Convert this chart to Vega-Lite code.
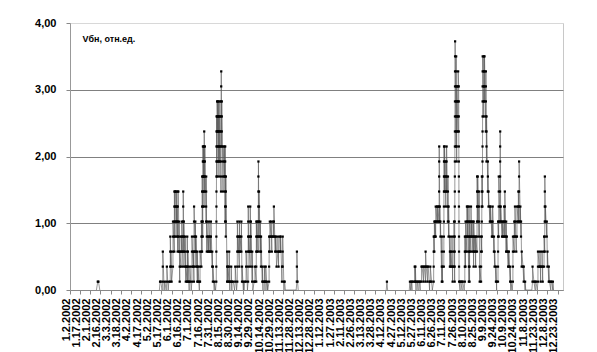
{
"$schema":"https://vega.github.io/schema/vega-lite/v6.json",
"width":493,"height":267,
"autosize":{"type":"none"},
"padding":{"left":70,"top":23,"right":34,"bottom":62},
"background":"white",
"config":{"font":"Liberation Sans","view":{"stroke":"#c8c8c8","strokeWidth":1}},
"datasets":{
"a":[{"t":"2002-02-10T00:00","v":0},{"t":"2002-02-12T00:00","v":0.125},{"t":"2002-02-13T00:00","v":0.125},{"t":"2002-02-15T00:00","v":0}],
"b":[
{"t":"2002-05-14T00:00","v":0},
{"t":"2002-05-15T00:00","v":0.125},
{"t":"2002-05-16T00:00","v":0.125},
{"t":"2002-05-18T00:00","v":0},
{"t":"2002-05-19T00:00","v":0.125},{"t":"2002-05-19T01:00","v":0.35},{"t":"2002-05-19T02:00","v":0.575},
{"t":"2002-05-21T00:00","v":0},
{"t":"2002-05-22T00:00","v":0.125},
{"t":"2002-05-24T00:00","v":0},
{"t":"2002-05-25T00:00","v":0.125},{"t":"2002-05-25T01:00","v":0.35},
{"t":"2002-05-27T00:00","v":0},
{"t":"2002-05-28T00:00","v":0.125},
{"t":"2002-05-30T00:00","v":0.125},{"t":"2002-05-30T01:00","v":0.35},{"t":"2002-05-30T02:00","v":0.575},{"t":"2002-05-30T03:00","v":0.8},
{"t":"2002-05-31T00:00","v":0.35},{"t":"2002-05-31T01:00","v":0.575},
{"t":"2002-06-01T00:00","v":0.125},
{"t":"2002-06-03T00:00","v":0.35},{"t":"2002-06-03T01:00","v":0.575},{"t":"2002-06-03T02:00","v":0.8},{"t":"2002-06-03T03:00","v":1.025},
{"t":"2002-06-05T00:00","v":0.575},{"t":"2002-06-05T01:00","v":0.8},{"t":"2002-06-05T02:00","v":1.025},{"t":"2002-06-05T03:00","v":1.25},{"t":"2002-06-05T04:00","v":1.475},
{"t":"2002-06-06T00:00","v":0.8},{"t":"2002-06-06T01:00","v":1.025},{"t":"2002-06-06T02:00","v":1.25},{"t":"2002-06-06T03:00","v":1.475},
{"t":"2002-06-07T00:00","v":1.475},
{"t":"2002-06-08T00:00","v":1.025},{"t":"2002-06-08T01:00","v":1.25},{"t":"2002-06-08T02:00","v":1.475},
{"t":"2002-06-09T00:00","v":0.8},{"t":"2002-06-09T01:00","v":1.025},{"t":"2002-06-09T02:00","v":1.25},
{"t":"2002-06-10T00:00","v":0.575},{"t":"2002-06-10T01:00","v":0.8},{"t":"2002-06-10T02:00","v":1.025},{"t":"2002-06-10T03:00","v":1.25},{"t":"2002-06-10T04:00","v":1.475},
{"t":"2002-06-11T00:00","v":1.475},
{"t":"2002-06-12T00:00","v":0.575},{"t":"2002-06-12T01:00","v":0.8},{"t":"2002-06-12T02:00","v":1.025},
{"t":"2002-06-13T00:00","v":0.125},{"t":"2002-06-13T01:00","v":0.35},{"t":"2002-06-13T02:00","v":0.575},
{"t":"2002-06-15T00:00","v":0.35},{"t":"2002-06-15T01:00","v":0.575},{"t":"2002-06-15T02:00","v":0.8},
{"t":"2002-06-16T00:00","v":0.575},{"t":"2002-06-16T01:00","v":0.8},{"t":"2002-06-16T02:00","v":1.025},
{"t":"2002-06-18T00:00","v":0.35},{"t":"2002-06-18T01:00","v":0.575},{"t":"2002-06-18T02:00","v":0.8},{"t":"2002-06-18T03:00","v":1.025},{"t":"2002-06-18T04:00","v":1.25},{"t":"2002-06-18T05:00","v":1.475},
{"t":"2002-06-19T00:00","v":0.575},{"t":"2002-06-19T01:00","v":0.8},{"t":"2002-06-19T02:00","v":1.025},
{"t":"2002-06-21T00:00","v":0.35},{"t":"2002-06-21T01:00","v":0.575},{"t":"2002-06-21T02:00","v":0.8},
{"t":"2002-06-22T00:00","v":0.125},{"t":"2002-06-22T01:00","v":0.35},
{"t":"2002-06-24T00:00","v":0.125},{"t":"2002-06-24T01:00","v":0.35},{"t":"2002-06-24T02:00","v":0.575},{"t":"2002-06-24T03:00","v":0.8},
{"t":"2002-06-25T00:00","v":0.125},{"t":"2002-06-25T01:00","v":0.35},{"t":"2002-06-25T02:00","v":0.575},
{"t":"2002-06-27T00:00","v":0},{"t":"2002-06-27T01:00","v":0.125},
{"t":"2002-06-28T00:00","v":0.125},{"t":"2002-06-28T01:00","v":0.35},
{"t":"2002-06-30T00:00","v":0},
{"t":"2002-07-01T00:00","v":0.125},{"t":"2002-07-01T01:00","v":0.35},{"t":"2002-07-01T02:00","v":0.575},{"t":"2002-07-01T03:00","v":0.8},
{"t":"2002-07-03T00:00","v":0.35},{"t":"2002-07-03T01:00","v":0.575},
{"t":"2002-07-04T00:00","v":0.125},{"t":"2002-07-04T01:00","v":0.35},{"t":"2002-07-04T02:00","v":0.575},{"t":"2002-07-04T03:00","v":0.8},{"t":"2002-07-04T04:00","v":1.025},{"t":"2002-07-04T05:00","v":1.25},
{"t":"2002-07-06T00:00","v":0.575},{"t":"2002-07-06T01:00","v":0.8},{"t":"2002-07-06T02:00","v":1.025},
{"t":"2002-07-07T00:00","v":0.35},{"t":"2002-07-07T01:00","v":0.575},{"t":"2002-07-07T02:00","v":0.8},
{"t":"2002-07-09T00:00","v":0.125},{"t":"2002-07-09T01:00","v":0.35},{"t":"2002-07-09T02:00","v":0.575},
{"t":"2002-07-10T00:00","v":0.125},{"t":"2002-07-10T01:00","v":0.35},
{"t":"2002-07-12T00:00","v":0},{"t":"2002-07-12T01:00","v":0.125},
{"t":"2002-07-13T00:00","v":0.125},{"t":"2002-07-13T01:00","v":0.35},{"t":"2002-07-13T02:00","v":0.575},
{"t":"2002-07-15T00:00","v":0.35},{"t":"2002-07-15T01:00","v":0.575},{"t":"2002-07-15T02:00","v":0.8},{"t":"2002-07-15T03:00","v":1.025},
{"t":"2002-07-16T00:00","v":0.575},{"t":"2002-07-16T01:00","v":0.8},{"t":"2002-07-16T02:00","v":1.025},{"t":"2002-07-16T03:00","v":1.25},{"t":"2002-07-16T04:00","v":1.475},{"t":"2002-07-16T05:00","v":1.7},
{"t":"2002-07-17T00:00","v":0.8},{"t":"2002-07-17T01:00","v":1.025},{"t":"2002-07-17T02:00","v":1.25},{"t":"2002-07-17T03:00","v":1.475},{"t":"2002-07-17T04:00","v":1.7},{"t":"2002-07-17T05:00","v":1.925},{"t":"2002-07-17T06:00","v":2.15},
{"t":"2002-07-18T00:00","v":1.7},{"t":"2002-07-18T01:00","v":1.925},{"t":"2002-07-18T02:00","v":2.15},
{"t":"2002-07-19T00:00","v":1.25},{"t":"2002-07-19T01:00","v":1.475},{"t":"2002-07-19T02:00","v":1.7},{"t":"2002-07-19T03:00","v":1.925},{"t":"2002-07-19T04:00","v":2.15},{"t":"2002-07-19T05:00","v":2.375},
{"t":"2002-07-20T00:00","v":1.475},{"t":"2002-07-20T01:00","v":1.7},{"t":"2002-07-20T02:00","v":1.925},{"t":"2002-07-20T03:00","v":2.15},
{"t":"2002-07-22T00:00","v":1.025},{"t":"2002-07-22T01:00","v":1.25},{"t":"2002-07-22T02:00","v":1.475},{"t":"2002-07-22T03:00","v":1.7},
{"t":"2002-07-23T00:00","v":0.575},{"t":"2002-07-23T01:00","v":0.8},{"t":"2002-07-23T02:00","v":1.025},
{"t":"2002-07-25T00:00","v":0.575},{"t":"2002-07-25T01:00","v":0.8},
{"t":"2002-07-26T00:00","v":0.575},{"t":"2002-07-26T01:00","v":0.8},{"t":"2002-07-26T02:00","v":1.025},
{"t":"2002-07-28T00:00","v":0.575},{"t":"2002-07-28T01:00","v":0.8},
{"t":"2002-07-29T00:00","v":0.575},{"t":"2002-07-29T01:00","v":0.8},{"t":"2002-07-29T02:00","v":1.025},
{"t":"2002-07-31T00:00","v":0.35},{"t":"2002-07-31T01:00","v":0.575},
{"t":"2002-08-01T00:00","v":0.125},{"t":"2002-08-01T01:00","v":0.35},
{"t":"2002-08-03T00:00","v":0},{"t":"2002-08-03T01:00","v":0.125},
{"t":"2002-08-05T00:00","v":0},
{"t":"2002-08-06T00:00","v":0.125},{"t":"2002-08-06T01:00","v":0.35},{"t":"2002-08-06T02:00","v":0.575},{"t":"2002-08-06T03:00","v":0.8},{"t":"2002-08-06T04:00","v":1.025},{"t":"2002-08-06T05:00","v":1.25},{"t":"2002-08-06T06:00","v":1.475},{"t":"2002-08-06T07:00","v":1.7},{"t":"2002-08-06T08:00","v":1.925},{"t":"2002-08-06T09:00","v":2.15},{"t":"2002-08-06T10:00","v":2.375},{"t":"2002-08-06T11:00","v":2.6},
{"t":"2002-08-07T00:00","v":1.7},{"t":"2002-08-07T01:00","v":1.925},{"t":"2002-08-07T02:00","v":2.15},{"t":"2002-08-07T03:00","v":2.375},{"t":"2002-08-07T04:00","v":2.6},{"t":"2002-08-07T05:00","v":2.825},
{"t":"2002-08-08T00:00","v":2.375},{"t":"2002-08-08T01:00","v":2.6},{"t":"2002-08-08T02:00","v":2.825},
{"t":"2002-08-09T00:00","v":1.925},{"t":"2002-08-09T01:00","v":2.15},{"t":"2002-08-09T02:00","v":2.375},{"t":"2002-08-09T03:00","v":2.6},{"t":"2002-08-09T04:00","v":2.825},
{"t":"2002-08-10T00:00","v":1.7},{"t":"2002-08-10T01:00","v":1.925},{"t":"2002-08-10T02:00","v":2.15},{"t":"2002-08-10T03:00","v":2.375},{"t":"2002-08-10T04:00","v":2.6},
{"t":"2002-08-11T00:00","v":1.925},{"t":"2002-08-11T01:00","v":2.15},{"t":"2002-08-11T02:00","v":2.375},{"t":"2002-08-11T03:00","v":2.6},{"t":"2002-08-11T04:00","v":2.825},
{"t":"2002-08-13T00:00","v":1.475},{"t":"2002-08-13T01:00","v":1.7},{"t":"2002-08-13T02:00","v":1.925},{"t":"2002-08-13T03:00","v":2.15},{"t":"2002-08-13T04:00","v":2.375},{"t":"2002-08-13T05:00","v":2.6},{"t":"2002-08-13T06:00","v":2.825},{"t":"2002-08-13T07:00","v":3.05},{"t":"2002-08-13T08:00","v":3.275},
{"t":"2002-08-14T00:00","v":2.15},{"t":"2002-08-14T01:00","v":2.375},{"t":"2002-08-14T02:00","v":2.6},{"t":"2002-08-14T03:00","v":2.825},
{"t":"2002-08-16T00:00","v":1.475},{"t":"2002-08-16T01:00","v":1.7},{"t":"2002-08-16T02:00","v":1.925},{"t":"2002-08-16T03:00","v":2.15},
{"t":"2002-08-18T00:00","v":1.7},{"t":"2002-08-18T01:00","v":1.925},{"t":"2002-08-18T02:00","v":2.15},
{"t":"2002-08-19T00:00","v":1.025},{"t":"2002-08-19T01:00","v":1.25},{"t":"2002-08-19T02:00","v":1.475},{"t":"2002-08-19T03:00","v":1.7},{"t":"2002-08-19T04:00","v":1.925},{"t":"2002-08-19T05:00","v":2.15},
{"t":"2002-08-20T00:00","v":0.8},{"t":"2002-08-20T01:00","v":1.025},{"t":"2002-08-20T02:00","v":1.25},{"t":"2002-08-20T03:00","v":1.475},{"t":"2002-08-20T04:00","v":1.7},
{"t":"2002-08-22T00:00","v":0.125},{"t":"2002-08-22T01:00","v":0.35},{"t":"2002-08-22T02:00","v":0.575},
{"t":"2002-08-23T00:00","v":0.125},{"t":"2002-08-23T01:00","v":0.35},
{"t":"2002-08-25T00:00","v":0.125},{"t":"2002-08-25T01:00","v":0.35},{"t":"2002-08-25T02:00","v":0.575},
{"t":"2002-08-26T00:00","v":0},{"t":"2002-08-26T01:00","v":0.125},
{"t":"2002-08-28T00:00","v":0.125},{"t":"2002-08-28T01:00","v":0.35},
{"t":"2002-08-29T00:00","v":0},{"t":"2002-08-29T01:00","v":0.125},
{"t":"2002-08-31T00:00","v":0.125},
{"t":"2002-09-02T00:00","v":0},
{"t":"2002-09-03T00:00","v":0.125},{"t":"2002-09-03T01:00","v":0.35},
{"t":"2002-09-05T00:00","v":0},
{"t":"2002-09-06T00:00","v":0.125},{"t":"2002-09-06T01:00","v":0.35},{"t":"2002-09-06T02:00","v":0.575},{"t":"2002-09-06T03:00","v":0.8},{"t":"2002-09-06T04:00","v":1.025},
{"t":"2002-09-07T00:00","v":0.575},{"t":"2002-09-07T01:00","v":0.8},
{"t":"2002-09-09T00:00","v":0.35},{"t":"2002-09-09T01:00","v":0.575},{"t":"2002-09-09T02:00","v":0.8},{"t":"2002-09-09T03:00","v":1.025},
{"t":"2002-09-10T00:00","v":0.575},{"t":"2002-09-10T01:00","v":0.8},
{"t":"2002-09-12T00:00","v":0.575},{"t":"2002-09-12T01:00","v":0.8},{"t":"2002-09-12T02:00","v":1.025},
{"t":"2002-09-13T00:00","v":0.125},{"t":"2002-09-13T01:00","v":0.35},
{"t":"2002-09-15T00:00","v":0},{"t":"2002-09-15T01:00","v":0.125},
{"t":"2002-09-16T00:00","v":0},
{"t":"2002-09-17T00:00","v":0.125},
{"t":"2002-09-19T00:00","v":0.125},{"t":"2002-09-19T01:00","v":0.35},{"t":"2002-09-19T02:00","v":0.575},
{"t":"2002-09-21T00:00","v":0},
{"t":"2002-09-22T00:00","v":0.125},{"t":"2002-09-22T01:00","v":0.35},{"t":"2002-09-22T02:00","v":0.575},{"t":"2002-09-22T03:00","v":0.8},{"t":"2002-09-22T04:00","v":1.025},{"t":"2002-09-22T05:00","v":1.25},
{"t":"2002-09-23T00:00","v":0.575},{"t":"2002-09-23T01:00","v":0.8},
{"t":"2002-09-25T00:00","v":0.35},{"t":"2002-09-25T01:00","v":0.575},{"t":"2002-09-25T02:00","v":0.8},{"t":"2002-09-25T03:00","v":1.025},{"t":"2002-09-25T04:00","v":1.25},
{"t":"2002-09-26T00:00","v":0.575},{"t":"2002-09-26T01:00","v":0.8},{"t":"2002-09-26T02:00","v":1.025},
{"t":"2002-09-28T00:00","v":0.125},{"t":"2002-09-28T01:00","v":0.35},{"t":"2002-09-28T02:00","v":0.575},
{"t":"2002-09-29T00:00","v":0},
{"t":"2002-10-01T00:00","v":0.125},
{"t":"2002-10-02T00:00","v":0.125},{"t":"2002-10-02T01:00","v":0.35},
{"t":"2002-10-04T00:00","v":0.125},{"t":"2002-10-04T01:00","v":0.35},{"t":"2002-10-04T02:00","v":0.575},{"t":"2002-10-04T03:00","v":0.8},{"t":"2002-10-04T04:00","v":1.025},
{"t":"2002-10-05T00:00","v":0.575},{"t":"2002-10-05T01:00","v":0.8},{"t":"2002-10-05T02:00","v":1.025},
{"t":"2002-10-07T00:00","v":0.575},{"t":"2002-10-07T01:00","v":0.8},{"t":"2002-10-07T02:00","v":1.025},{"t":"2002-10-07T03:00","v":1.25},{"t":"2002-10-07T04:00","v":1.475},{"t":"2002-10-07T05:00","v":1.7},{"t":"2002-10-07T06:00","v":1.925},
{"t":"2002-10-08T00:00","v":0.8},{"t":"2002-10-08T01:00","v":1.025},{"t":"2002-10-08T02:00","v":1.25},{"t":"2002-10-08T03:00","v":1.475},
{"t":"2002-10-10T00:00","v":0.575},{"t":"2002-10-10T01:00","v":0.8},{"t":"2002-10-10T02:00","v":1.025},
{"t":"2002-10-11T00:00","v":0.35},{"t":"2002-10-11T01:00","v":0.575},{"t":"2002-10-11T02:00","v":0.8},
{"t":"2002-10-13T00:00","v":0.125},{"t":"2002-10-13T01:00","v":0.35},
{"t":"2002-10-14T00:00","v":0},{"t":"2002-10-14T01:00","v":0.125},
{"t":"2002-10-16T00:00","v":0.125},{"t":"2002-10-16T01:00","v":0.35},
{"t":"2002-10-17T00:00","v":0},{"t":"2002-10-17T01:00","v":0.125},
{"t":"2002-10-18T00:00","v":0.125},{"t":"2002-10-18T01:00","v":0.35},
{"t":"2002-10-20T00:00","v":0},{"t":"2002-10-20T01:00","v":0.125},
{"t":"2002-10-21T00:00","v":0},
{"t":"2002-10-23T00:00","v":0.125},{"t":"2002-10-23T01:00","v":0.35},{"t":"2002-10-23T02:00","v":0.575},{"t":"2002-10-23T03:00","v":0.8},
{"t":"2002-10-24T00:00","v":0.575},{"t":"2002-10-24T01:00","v":0.8},{"t":"2002-10-24T02:00","v":1.025},
{"t":"2002-10-26T00:00","v":0.8},{"t":"2002-10-26T01:00","v":1.025},
{"t":"2002-10-27T00:00","v":0.575},{"t":"2002-10-27T01:00","v":0.8},
{"t":"2002-10-29T00:00","v":0.8},{"t":"2002-10-29T01:00","v":1.025},
{"t":"2002-10-30T00:00","v":0.8},{"t":"2002-10-30T01:00","v":1.025},{"t":"2002-10-30T02:00","v":1.25},
{"t":"2002-11-01T00:00","v":0.575},{"t":"2002-11-01T01:00","v":0.8},
{"t":"2002-11-02T00:00","v":0.575},{"t":"2002-11-02T01:00","v":0.8},
{"t":"2002-11-03T00:00","v":0.35},
{"t":"2002-11-05T00:00","v":0.575},{"t":"2002-11-05T01:00","v":0.8},
{"t":"2002-11-06T00:00","v":0.35},{"t":"2002-11-06T01:00","v":0.575},
{"t":"2002-11-08T00:00","v":0.575},{"t":"2002-11-08T01:00","v":0.8},
{"t":"2002-11-09T00:00","v":0.575},{"t":"2002-11-09T01:00","v":0.8},
{"t":"2002-11-11T00:00","v":0.125},{"t":"2002-11-11T01:00","v":0.35},
{"t":"2002-11-12T00:00","v":0.35},{"t":"2002-11-12T01:00","v":0.575},{"t":"2002-11-12T02:00","v":0.8},
{"t":"2002-11-14T00:00","v":0},{"t":"2002-11-14T01:00","v":0.125},
{"t":"2002-11-15T00:00","v":0.125},
{"t":"2002-11-16T00:00","v":0},
{"t":"2002-12-02T00:00","v":0},
{"t":"2002-12-03T00:00","v":0.125},{"t":"2002-12-03T01:00","v":0.35},{"t":"2002-12-03T02:00","v":0.575},
{"t":"2002-12-04T00:00","v":0.125},
{"t":"2002-12-05T00:00","v":0}
],
"c":[{"t":"2003-04-14T00:00","v":0},{"t":"2003-04-15T00:00","v":0.125},{"t":"2003-04-16T00:00","v":0}],
"d":[
{"t":"2003-05-18T00:00","v":0},
{"t":"2003-05-19T00:00","v":0.125},
{"t":"2003-05-20T00:00","v":0},
{"t":"2003-05-21T00:00","v":0.125},
{"t":"2003-05-22T00:00","v":0},{"t":"2003-05-22T01:00","v":0.125},
{"t":"2003-05-24T00:00","v":0.125},
{"t":"2003-05-26T00:00","v":0.125},{"t":"2003-05-26T01:00","v":0.35},
{"t":"2003-05-27T00:00","v":0.125},{"t":"2003-05-27T01:00","v":0.35},
{"t":"2003-05-28T00:00","v":0},{"t":"2003-05-28T01:00","v":0.125},
{"t":"2003-05-30T00:00","v":0.125},
{"t":"2003-05-31T00:00","v":0},{"t":"2003-05-31T01:00","v":0.125},
{"t":"2003-06-02T00:00","v":0.125},
{"t":"2003-06-03T00:00","v":0},{"t":"2003-06-03T01:00","v":0.125},
{"t":"2003-06-05T00:00","v":0.125},{"t":"2003-06-05T01:00","v":0.35},
{"t":"2003-06-06T00:00","v":0.35},
{"t":"2003-06-08T00:00","v":0.125},{"t":"2003-06-08T01:00","v":0.35},
{"t":"2003-06-09T00:00","v":0.35},
{"t":"2003-06-11T00:00","v":0.125},{"t":"2003-06-11T01:00","v":0.35},{"t":"2003-06-11T02:00","v":0.575},
{"t":"2003-06-12T00:00","v":0.35},
{"t":"2003-06-14T00:00","v":0.125},{"t":"2003-06-14T01:00","v":0.35},
{"t":"2003-06-15T00:00","v":0.35},
{"t":"2003-06-17T00:00","v":0},{"t":"2003-06-17T01:00","v":0.125},
{"t":"2003-06-18T00:00","v":0.125},{"t":"2003-06-18T01:00","v":0.35},
{"t":"2003-06-20T00:00","v":0.125},
{"t":"2003-06-21T00:00","v":0},
{"t":"2003-06-23T00:00","v":0.125},{"t":"2003-06-23T01:00","v":0.35},{"t":"2003-06-23T02:00","v":0.575},{"t":"2003-06-23T03:00","v":0.8},
{"t":"2003-06-24T00:00","v":0.575},{"t":"2003-06-24T01:00","v":0.8},{"t":"2003-06-24T02:00","v":1.025},
{"t":"2003-06-25T00:00","v":0.8},{"t":"2003-06-25T01:00","v":1.025},
{"t":"2003-06-26T00:00","v":0.8},{"t":"2003-06-26T01:00","v":1.025},{"t":"2003-06-26T02:00","v":1.25},
{"t":"2003-06-28T00:00","v":1.025},{"t":"2003-06-28T01:00","v":1.25},
{"t":"2003-06-29T00:00","v":1.025},{"t":"2003-06-29T01:00","v":1.25},
{"t":"2003-07-01T00:00","v":1.025},{"t":"2003-07-01T01:00","v":1.25},{"t":"2003-07-01T02:00","v":1.475},{"t":"2003-07-01T03:00","v":1.7},{"t":"2003-07-01T04:00","v":1.925},{"t":"2003-07-01T05:00","v":2.15},
{"t":"2003-07-02T00:00","v":1.025},{"t":"2003-07-02T01:00","v":1.25},
{"t":"2003-07-03T00:00","v":0.8},{"t":"2003-07-03T01:00","v":1.025},
{"t":"2003-07-05T00:00","v":0.125},{"t":"2003-07-05T01:00","v":0.35},{"t":"2003-07-05T02:00","v":0.575},{"t":"2003-07-05T03:00","v":0.8},
{"t":"2003-07-06T00:00","v":0.125},{"t":"2003-07-06T01:00","v":0.35},
{"t":"2003-07-08T00:00","v":0.35},{"t":"2003-07-08T01:00","v":0.575},{"t":"2003-07-08T02:00","v":0.8},{"t":"2003-07-08T03:00","v":1.025},{"t":"2003-07-08T04:00","v":1.25},{"t":"2003-07-08T05:00","v":1.475},{"t":"2003-07-08T06:00","v":1.7},{"t":"2003-07-08T07:00","v":1.925},{"t":"2003-07-08T08:00","v":2.15},
{"t":"2003-07-09T00:00","v":1.475},{"t":"2003-07-09T01:00","v":1.7},{"t":"2003-07-09T02:00","v":1.925},{"t":"2003-07-09T03:00","v":2.15},
{"t":"2003-07-11T00:00","v":1.25},{"t":"2003-07-11T01:00","v":1.475},{"t":"2003-07-11T02:00","v":1.7},{"t":"2003-07-11T03:00","v":1.925},
{"t":"2003-07-12T00:00","v":1.475},{"t":"2003-07-12T01:00","v":1.7},{"t":"2003-07-12T02:00","v":1.925},{"t":"2003-07-12T03:00","v":2.15},
{"t":"2003-07-14T00:00","v":1.025},{"t":"2003-07-14T01:00","v":1.25},{"t":"2003-07-14T02:00","v":1.475},{"t":"2003-07-14T03:00","v":1.7},
{"t":"2003-07-15T00:00","v":0.8},{"t":"2003-07-15T01:00","v":1.025},{"t":"2003-07-15T02:00","v":1.25},
{"t":"2003-07-17T00:00","v":0.35},{"t":"2003-07-17T01:00","v":0.575},{"t":"2003-07-17T02:00","v":0.8},
{"t":"2003-07-18T00:00","v":0.35},{"t":"2003-07-18T01:00","v":0.575},
{"t":"2003-07-20T00:00","v":0.35},{"t":"2003-07-20T01:00","v":0.575},{"t":"2003-07-20T02:00","v":0.8},
{"t":"2003-07-21T00:00","v":0.125},{"t":"2003-07-21T01:00","v":0.35},
{"t":"2003-07-23T00:00","v":0.35},{"t":"2003-07-23T01:00","v":0.575},{"t":"2003-07-23T02:00","v":0.8},{"t":"2003-07-23T03:00","v":1.025},
{"t":"2003-07-24T00:00","v":0.125},{"t":"2003-07-24T01:00","v":0.35},{"t":"2003-07-24T02:00","v":0.575},{"t":"2003-07-24T03:00","v":0.8},{"t":"2003-07-24T04:00","v":1.025},{"t":"2003-07-24T05:00","v":1.25},{"t":"2003-07-24T06:00","v":1.475},{"t":"2003-07-24T07:00","v":1.7},{"t":"2003-07-24T08:00","v":1.925},{"t":"2003-07-24T09:00","v":2.15},{"t":"2003-07-24T10:00","v":2.375},{"t":"2003-07-24T11:00","v":2.6},{"t":"2003-07-24T12:00","v":2.825},{"t":"2003-07-24T13:00","v":3.05},{"t":"2003-07-24T14:00","v":3.275},{"t":"2003-07-24T15:00","v":3.5},{"t":"2003-07-24T16:00","v":3.725},
{"t":"2003-07-26T00:00","v":2.15},{"t":"2003-07-26T01:00","v":2.375},{"t":"2003-07-26T02:00","v":2.6},{"t":"2003-07-26T03:00","v":2.825},{"t":"2003-07-26T04:00","v":3.05},{"t":"2003-07-26T05:00","v":3.275},{"t":"2003-07-26T06:00","v":3.5},
{"t":"2003-07-27T00:00","v":1.925},{"t":"2003-07-27T01:00","v":2.15},{"t":"2003-07-27T02:00","v":2.375},{"t":"2003-07-27T03:00","v":2.6},{"t":"2003-07-27T04:00","v":2.825},{"t":"2003-07-27T05:00","v":3.05},
{"t":"2003-07-29T00:00","v":2.375},{"t":"2003-07-29T01:00","v":2.6},{"t":"2003-07-29T02:00","v":2.825},{"t":"2003-07-29T03:00","v":3.05},{"t":"2003-07-29T04:00","v":3.275},
{"t":"2003-07-30T00:00","v":3.05},{"t":"2003-07-30T01:00","v":2.825},{"t":"2003-07-30T02:00","v":2.6},{"t":"2003-07-30T03:00","v":2.375},{"t":"2003-07-30T04:00","v":2.15},{"t":"2003-07-30T05:00","v":1.925},{"t":"2003-07-30T06:00","v":1.7},{"t":"2003-07-30T07:00","v":1.475},{"t":"2003-07-30T08:00","v":1.25},{"t":"2003-07-30T09:00","v":1.025},{"t":"2003-07-30T10:00","v":0.8},{"t":"2003-07-30T11:00","v":0.575},{"t":"2003-07-30T12:00","v":0.35},{"t":"2003-07-30T13:00","v":0.125},
{"t":"2003-08-01T00:00","v":0},{"t":"2003-08-01T01:00","v":0.125},
{"t":"2003-08-02T00:00","v":0.125},
{"t":"2003-08-04T00:00","v":0},{"t":"2003-08-04T01:00","v":0.125},
{"t":"2003-08-05T00:00","v":0.125},
{"t":"2003-08-07T00:00","v":0},
{"t":"2003-08-08T00:00","v":0.125},{"t":"2003-08-08T01:00","v":0.35},{"t":"2003-08-08T02:00","v":0.575},{"t":"2003-08-08T03:00","v":0.8},
{"t":"2003-08-09T00:00","v":0.35},{"t":"2003-08-09T01:00","v":0.575},{"t":"2003-08-09T02:00","v":0.8},{"t":"2003-08-09T03:00","v":1.025},
{"t":"2003-08-11T00:00","v":0.575},{"t":"2003-08-11T01:00","v":0.8},{"t":"2003-08-11T02:00","v":1.025},{"t":"2003-08-11T03:00","v":1.25},
{"t":"2003-08-12T00:00","v":0.8},{"t":"2003-08-12T01:00","v":1.025},{"t":"2003-08-12T02:00","v":1.25},
{"t":"2003-08-14T00:00","v":0.125},{"t":"2003-08-14T01:00","v":0.35},{"t":"2003-08-14T02:00","v":0.575},{"t":"2003-08-14T03:00","v":0.8},{"t":"2003-08-14T04:00","v":1.025},{"t":"2003-08-14T05:00","v":1.25},
{"t":"2003-08-15T00:00","v":0.125},{"t":"2003-08-15T01:00","v":0.35},{"t":"2003-08-15T02:00","v":0.575},{"t":"2003-08-15T03:00","v":0.8},{"t":"2003-08-15T04:00","v":1.025},
{"t":"2003-08-17T00:00","v":0.575},{"t":"2003-08-17T01:00","v":0.8},{"t":"2003-08-17T02:00","v":1.025},{"t":"2003-08-17T03:00","v":1.25},
{"t":"2003-08-18T00:00","v":0.8},{"t":"2003-08-18T01:00","v":1.025},
{"t":"2003-08-20T00:00","v":0.575},{"t":"2003-08-20T01:00","v":0.8},{"t":"2003-08-20T02:00","v":1.025},
{"t":"2003-08-21T00:00","v":0.35},{"t":"2003-08-21T01:00","v":0.575},{"t":"2003-08-21T02:00","v":0.8},{"t":"2003-08-21T03:00","v":1.025},
{"t":"2003-08-23T00:00","v":0.575},{"t":"2003-08-23T01:00","v":0.8},
{"t":"2003-08-24T00:00","v":0.35},{"t":"2003-08-24T01:00","v":0.575},{"t":"2003-08-24T02:00","v":0.8},
{"t":"2003-08-26T00:00","v":0.575},{"t":"2003-08-26T01:00","v":0.8},{"t":"2003-08-26T02:00","v":1.025},{"t":"2003-08-26T03:00","v":1.25},{"t":"2003-08-26T04:00","v":1.475},{"t":"2003-08-26T05:00","v":1.7},
{"t":"2003-08-27T00:00","v":1.025},{"t":"2003-08-27T01:00","v":1.25},{"t":"2003-08-27T02:00","v":1.475},{"t":"2003-08-27T03:00","v":1.7},
{"t":"2003-08-29T00:00","v":0.8},{"t":"2003-08-29T01:00","v":1.025},{"t":"2003-08-29T02:00","v":1.25},{"t":"2003-08-29T03:00","v":1.475},
{"t":"2003-08-30T00:00","v":0.125},{"t":"2003-08-30T01:00","v":0.35},
{"t":"2003-09-01T00:00","v":0.125},{"t":"2003-09-01T01:00","v":0.35},{"t":"2003-09-01T02:00","v":0.575},{"t":"2003-09-01T03:00","v":0.8},
{"t":"2003-09-02T00:00","v":0.575},{"t":"2003-09-02T01:00","v":0.8},{"t":"2003-09-02T02:00","v":1.025},{"t":"2003-09-02T03:00","v":1.25},{"t":"2003-09-02T04:00","v":1.475},{"t":"2003-09-02T05:00","v":1.7},
{"t":"2003-09-03T00:00","v":1.25},{"t":"2003-09-03T01:00","v":1.475},{"t":"2003-09-03T02:00","v":1.7},{"t":"2003-09-03T03:00","v":1.925},{"t":"2003-09-03T04:00","v":2.15},{"t":"2003-09-03T05:00","v":2.375},{"t":"2003-09-03T06:00","v":2.6},{"t":"2003-09-03T07:00","v":2.825},{"t":"2003-09-03T08:00","v":3.05},{"t":"2003-09-03T09:00","v":3.275},{"t":"2003-09-03T10:00","v":3.5},
{"t":"2003-09-05T00:00","v":2.6},{"t":"2003-09-05T01:00","v":2.825},{"t":"2003-09-05T02:00","v":3.05},{"t":"2003-09-05T03:00","v":3.275},{"t":"2003-09-05T04:00","v":3.5},
{"t":"2003-09-06T00:00","v":2.825},{"t":"2003-09-06T01:00","v":3.05},{"t":"2003-09-06T02:00","v":3.275},{"t":"2003-09-06T03:00","v":3.5},
{"t":"2003-09-08T00:00","v":2.375},{"t":"2003-09-08T01:00","v":2.6},{"t":"2003-09-08T02:00","v":2.825},{"t":"2003-09-08T03:00","v":3.05},{"t":"2003-09-08T04:00","v":3.275},
{"t":"2003-09-09T00:00","v":1.925},{"t":"2003-09-09T01:00","v":2.15},{"t":"2003-09-09T02:00","v":2.375},{"t":"2003-09-09T03:00","v":2.6},
{"t":"2003-09-11T00:00","v":1.475},{"t":"2003-09-11T01:00","v":1.7},{"t":"2003-09-11T02:00","v":1.925},
{"t":"2003-09-12T00:00","v":1.25},{"t":"2003-09-12T01:00","v":1.475},
{"t":"2003-09-14T00:00","v":1.025},{"t":"2003-09-14T01:00","v":1.25},
{"t":"2003-09-15T00:00","v":1.025},{"t":"2003-09-15T01:00","v":1.25},
{"t":"2003-09-17T00:00","v":0.8},{"t":"2003-09-17T01:00","v":1.025},
{"t":"2003-09-18T00:00","v":0.8},{"t":"2003-09-18T01:00","v":1.025},{"t":"2003-09-18T02:00","v":1.25},
{"t":"2003-09-20T00:00","v":0.575},{"t":"2003-09-20T01:00","v":0.8},
{"t":"2003-09-21T00:00","v":0.35},{"t":"2003-09-21T01:00","v":0.575},
{"t":"2003-09-23T00:00","v":0.125},{"t":"2003-09-23T01:00","v":0.35},
{"t":"2003-09-24T00:00","v":0},{"t":"2003-09-24T01:00","v":0.125},
{"t":"2003-09-26T00:00","v":0.125},{"t":"2003-09-26T01:00","v":0.35},{"t":"2003-09-26T02:00","v":0.575},{"t":"2003-09-26T03:00","v":0.8},{"t":"2003-09-26T04:00","v":1.025},
{"t":"2003-09-27T00:00","v":0.8},{"t":"2003-09-27T01:00","v":1.025},{"t":"2003-09-27T02:00","v":1.25},{"t":"2003-09-27T03:00","v":1.475},{"t":"2003-09-27T04:00","v":1.7},
{"t":"2003-09-29T00:00","v":1.025},{"t":"2003-09-29T01:00","v":1.25},{"t":"2003-09-29T02:00","v":1.475},{"t":"2003-09-29T03:00","v":1.7},{"t":"2003-09-29T04:00","v":1.925},{"t":"2003-09-29T05:00","v":2.15},{"t":"2003-09-29T06:00","v":2.375},
{"t":"2003-09-30T00:00","v":1.025},{"t":"2003-09-30T01:00","v":1.25},
{"t":"2003-10-02T00:00","v":0.8},{"t":"2003-10-02T01:00","v":1.025},
{"t":"2003-10-03T00:00","v":0.8},{"t":"2003-10-03T01:00","v":1.025},
{"t":"2003-10-05T00:00","v":0.8},{"t":"2003-10-05T01:00","v":1.025},{"t":"2003-10-05T02:00","v":1.25},
{"t":"2003-10-06T00:00","v":0.8},{"t":"2003-10-06T01:00","v":1.025},{"t":"2003-10-06T02:00","v":1.25},{"t":"2003-10-06T03:00","v":1.475},
{"t":"2003-10-08T00:00","v":0.575},{"t":"2003-10-08T01:00","v":0.8},{"t":"2003-10-08T02:00","v":1.025},
{"t":"2003-10-09T00:00","v":0.575},{"t":"2003-10-09T01:00","v":0.8},
{"t":"2003-10-11T00:00","v":0.35},{"t":"2003-10-11T01:00","v":0.575},
{"t":"2003-10-12T00:00","v":0.35},{"t":"2003-10-12T01:00","v":0.575},
{"t":"2003-10-14T00:00","v":0.125},{"t":"2003-10-14T01:00","v":0.35},
{"t":"2003-10-15T00:00","v":0},{"t":"2003-10-15T01:00","v":0.125},
{"t":"2003-10-17T00:00","v":0},
{"t":"2003-10-18T00:00","v":0.125},{"t":"2003-10-18T01:00","v":0.35},{"t":"2003-10-18T02:00","v":0.575},{"t":"2003-10-18T03:00","v":0.8},
{"t":"2003-10-20T00:00","v":0.575},{"t":"2003-10-20T01:00","v":0.8},{"t":"2003-10-20T02:00","v":1.025},
{"t":"2003-10-21T00:00","v":0.8},{"t":"2003-10-21T01:00","v":1.025},{"t":"2003-10-21T02:00","v":1.25},
{"t":"2003-10-23T00:00","v":0.575},{"t":"2003-10-23T01:00","v":0.8},
{"t":"2003-10-24T00:00","v":0.8},{"t":"2003-10-24T01:00","v":1.025},{"t":"2003-10-24T02:00","v":1.25},
{"t":"2003-10-26T00:00","v":1.025},{"t":"2003-10-26T01:00","v":1.25},{"t":"2003-10-26T02:00","v":1.475},
{"t":"2003-10-27T00:00","v":1.025},{"t":"2003-10-27T01:00","v":1.25},{"t":"2003-10-27T02:00","v":1.475},{"t":"2003-10-27T03:00","v":1.7},{"t":"2003-10-27T04:00","v":1.925},
{"t":"2003-10-29T00:00","v":1.025},{"t":"2003-10-29T01:00","v":1.25},
{"t":"2003-10-30T00:00","v":0.8},{"t":"2003-10-30T01:00","v":1.025},
{"t":"2003-10-31T00:00","v":0.35},{"t":"2003-10-31T01:00","v":0.575},
{"t":"2003-11-02T00:00","v":0.35},
{"t":"2003-11-03T00:00","v":0.125},{"t":"2003-11-03T01:00","v":0.35},
{"t":"2003-11-05T00:00","v":0},{"t":"2003-11-05T01:00","v":0.125},
{"t":"2003-11-06T00:00","v":0},
{"t":"2003-11-15T00:00","v":0},
{"t":"2003-11-16T00:00","v":0.125},{"t":"2003-11-16T01:00","v":0.35},
{"t":"2003-11-18T00:00","v":0.125},
{"t":"2003-11-20T00:00","v":0},{"t":"2003-11-20T01:00","v":0.125},
{"t":"2003-11-21T00:00","v":0.125},
{"t":"2003-11-23T00:00","v":0},
{"t":"2003-11-24T00:00","v":0.125},{"t":"2003-11-24T01:00","v":0.35},{"t":"2003-11-24T02:00","v":0.575},
{"t":"2003-11-26T00:00","v":0.35},
{"t":"2003-11-27T00:00","v":0.35},{"t":"2003-11-27T01:00","v":0.575},
{"t":"2003-11-28T00:00","v":0.125},{"t":"2003-11-28T01:00","v":0.35},
{"t":"2003-11-30T00:00","v":0.35},{"t":"2003-11-30T01:00","v":0.575},
{"t":"2003-12-01T00:00","v":0.125},{"t":"2003-12-01T01:00","v":0.35},
{"t":"2003-12-03T00:00","v":0.35},{"t":"2003-12-03T01:00","v":0.575},{"t":"2003-12-03T02:00","v":0.8},
{"t":"2003-12-04T00:00","v":0.575},{"t":"2003-12-04T01:00","v":0.8},{"t":"2003-12-04T02:00","v":1.025},{"t":"2003-12-04T03:00","v":1.25},{"t":"2003-12-04T04:00","v":1.475},{"t":"2003-12-04T05:00","v":1.7},
{"t":"2003-12-05T00:00","v":1.025},{"t":"2003-12-05T01:00","v":1.25},
{"t":"2003-12-07T00:00","v":0.8},{"t":"2003-12-07T01:00","v":1.025},
{"t":"2003-12-08T00:00","v":0.35},{"t":"2003-12-08T01:00","v":0.575},
{"t":"2003-12-10T00:00","v":0.125},{"t":"2003-12-10T01:00","v":0.35},
{"t":"2003-12-11T00:00","v":0.125},
{"t":"2003-12-13T00:00","v":0},{"t":"2003-12-13T01:00","v":0.125},
{"t":"2003-12-14T00:00","v":0.125},
{"t":"2003-12-16T00:00","v":0},{"t":"2003-12-16T01:00","v":0.125},
{"t":"2003-12-17T00:00","v":0}
]
},
"encoding":{
"x":{"field":"t","type":"temporal",
 "scale":{"domain":[{"year":2002,"month":1,"date":2},{"year":2003,"month":12,"date":31}]},
 "axis":{"title":null,"grid":false,"format":"%-m.%-d.%Y","labelAngle":270,"labelFontSize":11,"labelFontWeight":"bold","labelColor":"#000","labelOverlap":false,"labelFlush":false,"labelBound":false,"labelPadding":4,"labelOffset":-4,"tickSize":4,"tickColor":"#888","domainColor":"#888",
 "values":[{"year":2002,"month":1,"date":2},{"year":2002,"month":1,"date":17},{"year":2002,"month":2,"date":1},{"year":2002,"month":2,"date":16},{"year":2002,"month":3,"date":3},{"year":2002,"month":3,"date":18},{"year":2002,"month":4,"date":2},{"year":2002,"month":4,"date":17},{"year":2002,"month":5,"date":2},{"year":2002,"month":5,"date":17},{"year":2002,"month":6,"date":1},{"year":2002,"month":6,"date":16},{"year":2002,"month":7,"date":1},{"year":2002,"month":7,"date":16},{"year":2002,"month":7,"date":31},{"year":2002,"month":8,"date":15},{"year":2002,"month":8,"date":30},{"year":2002,"month":9,"date":14},{"year":2002,"month":9,"date":29},{"year":2002,"month":10,"date":14},{"year":2002,"month":10,"date":29},{"year":2002,"month":11,"date":13},{"year":2002,"month":11,"date":28},{"year":2002,"month":12,"date":13},{"year":2002,"month":12,"date":28},{"year":2003,"month":1,"date":12},{"year":2003,"month":1,"date":27},{"year":2003,"month":2,"date":11},{"year":2003,"month":2,"date":26},{"year":2003,"month":3,"date":13},{"year":2003,"month":3,"date":28},{"year":2003,"month":4,"date":12},{"year":2003,"month":4,"date":27},{"year":2003,"month":5,"date":12},{"year":2003,"month":5,"date":27},{"year":2003,"month":6,"date":11},{"year":2003,"month":6,"date":26},{"year":2003,"month":7,"date":11},{"year":2003,"month":7,"date":26},{"year":2003,"month":8,"date":10},{"year":2003,"month":8,"date":25},{"year":2003,"month":9,"date":9},{"year":2003,"month":9,"date":24},{"year":2003,"month":10,"date":9},{"year":2003,"month":10,"date":24},{"year":2003,"month":11,"date":8},{"year":2003,"month":11,"date":23},{"year":2003,"month":12,"date":8},{"year":2003,"month":12,"date":23}]}},
"y":{"field":"v","type":"quantitative",
 "scale":{"domain":[0,4]},
 "axis":{"values":[0,1,2,3,4],"labelExpr":"replace(format(datum.value,'.2f'),'.',',')","labelFontSize":11,"labelFontWeight":"bold","labelColor":"#000","labelPadding":10,"tickSize":4,"tickColor":"#888","domainColor":"#999","grid":true,"gridColor":{"condition":{"test":"datum.value == 4","value":"#d8d8d8"},"value":"#808080"},
 "title":"Vбн, отн.ед.","titleAngle":0,"titleX":12,"titleY":15,"titleAlign":"left","titleBaseline":"middle","titleFontSize":9,"titleFontWeight":"bold","titleColor":"#000"}}
},
"layer":[
{"data":{"name":"a"},"layer":[{"mark":{"type":"line","color":"#555","strokeWidth":0.6}},{"transform":[{"filter":"datum.v>0"}],"mark":{"type":"square","size":5,"color":"#000","opacity":1}}]},
{"data":{"name":"b"},"layer":[{"mark":{"type":"line","color":"#555","strokeWidth":0.6}},{"transform":[{"filter":"datum.v>0"}],"mark":{"type":"square","size":5,"color":"#000","opacity":1}}]},
{"data":{"name":"c"},"layer":[{"mark":{"type":"line","color":"#555","strokeWidth":0.6}},{"transform":[{"filter":"datum.v>0"}],"mark":{"type":"square","size":5,"color":"#000","opacity":1}}]},
{"data":{"name":"d"},"layer":[{"mark":{"type":"line","color":"#555","strokeWidth":0.6}},{"transform":[{"filter":"datum.v>0"}],"mark":{"type":"square","size":5,"color":"#000","opacity":1}}]}
]
}
